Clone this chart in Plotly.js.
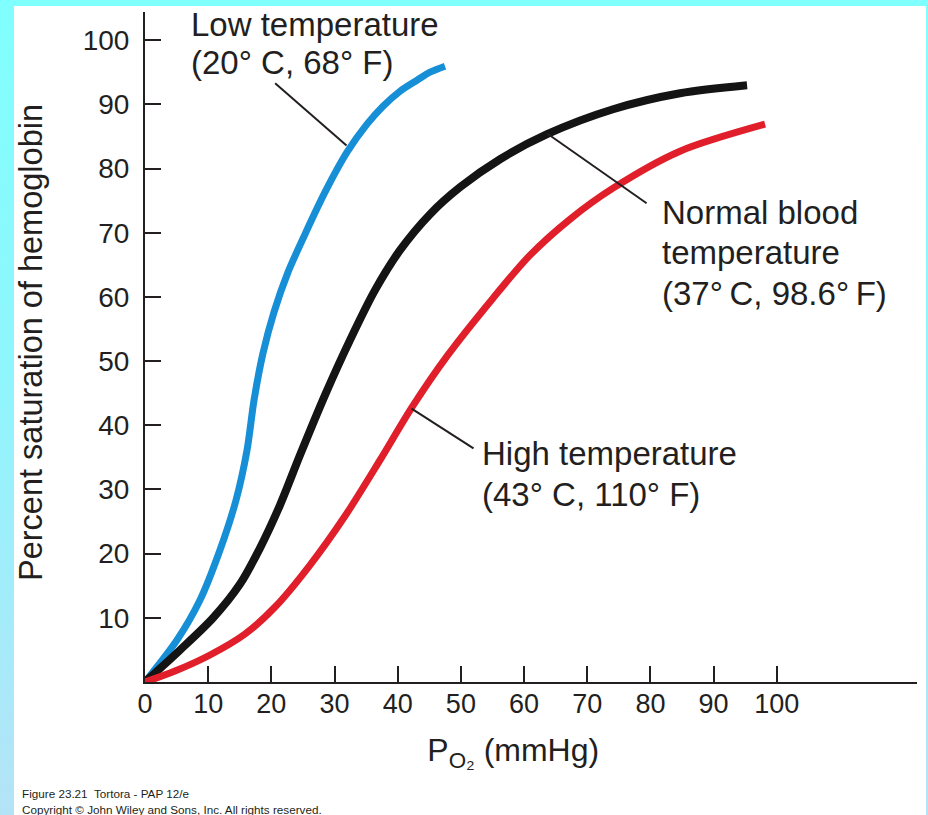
<!DOCTYPE html>
<html>
<head>
<meta charset="utf-8">
<script src="https://cdn.plot.ly/plotly-3.0.1.min.js"></script>
<style>
  html, body { margin: 0; padding: 0; }
  body { width: 928px; height: 815px; overflow: hidden;
         background: linear-gradient(180deg, #80ffff 0%, #8ff6fd 45%, #b4e3f7 100%); }
  #chart { position: absolute; left: 0; top: 0; width: 928px; height: 815px; }
</style>
</head>
<body>
<div id="chart"></div>
<script>
// ---- data ----
const po2Low    = [0, 5.07, 8.71, 11.87, 14.41, 16.15, 17.26, 18.68, 20.42, 22.64, 25.33, 28.49, 31.98, 35.14, 37.68, 40.37, 43.06, 45.12, 47.49];
const satLow    = [0, 6.54, 12.77, 20.56, 28.35, 36.14, 43.93, 51.25, 57.63, 63.86, 69.78, 76.32, 82.55, 86.92, 89.72, 92.06, 93.77, 95.02, 95.95];

const po2Normal = [0, 5.54, 10.76, 15.04, 18.20, 21.37, 24.54, 28.49, 32.45, 36.41, 40.37, 45.12, 49.87, 56.20, 63.64, 74.09, 84.69, 95.30];
const satNormal = [0, 4.98, 9.97, 15.26, 20.87, 27.57, 35.36, 44.70, 53.27, 61.06, 67.29, 72.90, 77.10, 81.46, 85.36, 89.25, 91.74, 92.99];

const po2High   = [0, 4.75, 10.29, 15.83, 20.58, 26.12, 31.66, 37.20, 42.27, 47.81, 55.09, 60.95, 67.28, 74.09, 84.69, 98.15];
const satHigh   = [0, 1.71, 4.21, 7.48, 11.68, 18.22, 25.86, 34.58, 42.83, 50.78, 59.81, 66.51, 72.12, 76.95, 82.71, 86.92];

const xTicks = [0, 10, 20, 30, 40, 50, 60, 70, 80, 90, 100];
const yTicks = [10, 20, 30, 40, 50, 60, 70, 80, 90, 100];

const seriesNames = ['Low temperature (20° C, 68° F)',
                     'Normal blood temperature (37° C, 98.6° F)',
                     'High temperature (43° C, 110° F)'];

// ---- chart ----
const FONT = 'Liberation Sans, Arial, Helvetica, sans-serif';
const INK = '#231f20';

const traces = [
  {x: po2Low, y: satLow, name: seriesNames[0], mode: 'lines',
   line: {color: '#168fd6', width: 7, shape: 'spline', smoothing: 0.85}},
  {x: po2Normal, y: satNormal, name: seriesNames[1], mode: 'lines',
   line: {color: '#141414', width: 8, shape: 'spline', smoothing: 0.85}},
  {x: po2High, y: satHigh, name: seriesNames[2], mode: 'lines',
   line: {color: '#e01f2b', width: 7, shape: 'spline', smoothing: 0.85}}
];

function txt(x, y, s) {
  return {x: x, y: y, xref: 'x', yref: 'y', text: s, showarrow: false,
          xanchor: 'left', yanchor: 'middle',
          font: {family: FONT, size: 33, color: INK}};
}
function foot(y, s) {
  return {x: -0.162, y: y, xref: 'paper', yref: 'paper', text: s, showarrow: false,
          xanchor: 'left', yanchor: 'middle',
          font: {family: FONT, size: 11.7, color: INK}};
}
function pointer(x0, y0, x1, y1) {
  return {type: 'line', xref: 'x', yref: 'y', x0: x0, y0: y0, x1: x1, y1: y1,
          line: {color: INK, width: 2}};
}

const layout = {
  width: 928, height: 815,
  margin: {l: 145, r: 11, t: 12, b: 133},
  paper_bgcolor: 'rgba(0,0,0,0)',
  plot_bgcolor: 'rgba(0,0,0,0)',
  showlegend: false,
  hovermode: false,
  font: {family: FONT, color: INK},
  xaxis: {
    range: [0, 122.2], tickvals: xTicks, ticktext: xTicks.map(String),
    ticks: 'inside', ticklen: 16, tickwidth: 2, tickcolor: INK,
    showline: true, linewidth: 2, linecolor: INK,
    showgrid: false, zeroline: false, automargin: false,
    tickfont: {family: FONT, size: 27, color: INK},
    ticklabelstandoff: -3,
    title: {text: 'P<sub>O₂</sub> (mmHg)&nbsp;&nbsp;&nbsp;&nbsp;', font: {family: FONT, size: 32, color: INK}, standoff: 20}
  },
  yaxis: {
    range: [0, 104.4], tickvals: yTicks, ticktext: yTicks.map(String),
    ticks: 'inside', ticklen: 16, tickwidth: 2, tickcolor: INK,
    showline: true, linewidth: 2, linecolor: INK,
    showgrid: false, zeroline: false, automargin: false,
    tickfont: {family: FONT, size: 28, color: INK},
    ticklabelstandoff: 8,
    title: {text: '&nbsp;Percent saturation of hemoglobin', font: {family: FONT, size: 32.5, color: INK}, standoff: 30}
  },
  shapes: [
    {type: 'rect', xref: 'paper', yref: 'paper', x0: -0.1697, x1: 1.0117, y0: -0.1985, y1: 1.009,
     fillcolor: '#ffffff', line: {width: 0}, layer: 'below'},
    pointer(20.6, 93.3, 31.9, 83.6),
    pointer(63.6, 85.5, 79.4, 74.6),
    pointer(42.2, 42.6, 52.0, 36.4)
  ],
  annotations: [
    txt(6.9, 102.4, 'Low temperature'),
    txt(6.9, 96.6, '(20° C, 68° F)'),
    txt(81.5, 73.2, 'Normal blood'),
    txt(81.5, 66.9, 'temperature'),
    txt(81.5, 60.6, '(37°\u2009C, 98.6°\u2009F)'),
    txt(53.0, 35.6, 'High temperature'),
    txt(53.0, 29.2, '(43° C, 110° F)'),
    foot(-0.167, 'Figure 23.21  Tortora - PAP 12/e'),
    foot(-0.190, 'Copyright © John Wiley and Sons, Inc. All rights reserved.')
  ]
};

Plotly.newPlot('chart', traces, layout, {staticPlot: true, displayModeBar: false});
</script>
</body>
</html>
